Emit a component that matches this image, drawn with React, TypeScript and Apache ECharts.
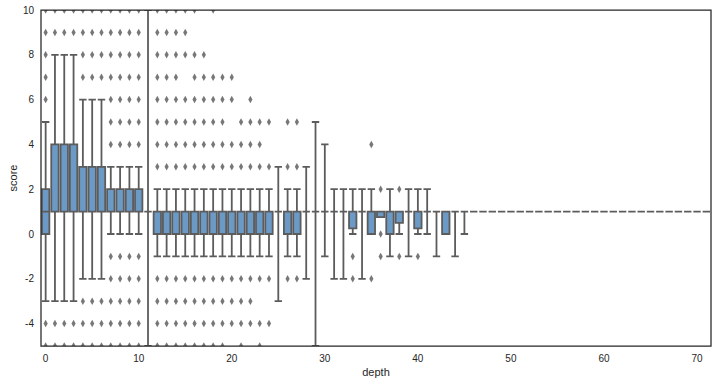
import React, { useEffect, useRef } from "react";
import * as echarts from "echarts";

// depth categories 0..71
const depths: string[] = Array.from({ length: 72 }, (_, i) => String(i));

// box statistics per depth
const whiskerLow: number[] = [
  -3, -3, -3, -3, -2, -2, -2, 0, 0, 0, 0, -5,
  -1, -1, -1, -1, -1, -1, -1, -1, -1, -1, -1, -1, -1,
  -3, -1, -1, -2, -5, -1, -2, -2, 0, -2, 0, 0.75, -1, 0, -1, 0, 0, -1, 0, -1, 0,
  1, 1, 1, 1, 1, 1, 1, 1, 1, 1, 1, 1, 1, 1, 1, 1, 1, 1, 1, 1, 1, 1, 1, 1, 1, 1,
];
const q1: number[] = [
  0, 1, 1, 1, 1, 1, 1, 1, 1, 1, 1, 1,
  0, 0, 0, 0, 0, 0, 0, 0, 0, 0, 0, 0, 0,
  1, 0, 0, 1, 1, 1, 1, 1, 0.25, 1, 0, 0.75, 0, 0.5, 1, 0.25, 1, 1, 0, 1, 1,
  1, 1, 1, 1, 1, 1, 1, 1, 1, 1, 1, 1, 1, 1, 1, 1, 1, 1, 1, 1, 1, 1, 1, 1, 1, 1,
];
const median: number[] = [
  1, 1, 1, 1, 1, 1, 1, 1, 1, 1, 1, 1,
  1, 1, 1, 1, 1, 1, 1, 1, 1, 1, 1, 1, 1,
  1, 1, 1, 1, 1, 1, 1, 1, 1, 1, 1, 1, 1, 1, 1, 1, 1, 1, 1, 1, 1,
  1, 1, 1, 1, 1, 1, 1, 1, 1, 1, 1, 1, 1, 1, 1, 1, 1, 1, 1, 1, 1, 1, 1, 1, 1, 1,
];
const q3: number[] = [
  2, 4, 4, 4, 3, 3, 3, 2, 2, 2, 2, 1,
  1, 1, 1, 1, 1, 1, 1, 1, 1, 1, 1, 1, 1,
  1, 1, 1, 1, 1, 1, 1, 1, 1, 1, 1, 1, 1, 1, 1, 1, 1, 1, 1, 1, 1,
  1, 1, 1, 1, 1, 1, 1, 1, 1, 1, 1, 1, 1, 1, 1, 1, 1, 1, 1, 1, 1, 1, 1, 1, 1, 1,
];
const whiskerHigh: number[] = [
  5, 8, 8, 8, 6, 6, 6, 3, 3, 3, 3, 10,
  2, 2, 2, 2, 2, 2, 2, 2, 2, 2, 2, 2, 2,
  3, 2, 2, 3, 5, 4, 2, 2, 2, 2, 2, 1, 2, 1, 2, 2, 2, 1, 1, 1, 1,
  1, 1, 1, 1, 1, 1, 1, 1, 1, 1, 1, 1, 1, 1, 1, 1, 1, 1, 1, 1, 1, 1, 1, 1, 1, 1,
];

// outliers: [depth index, score values]
const outlierGroups: [number, number[]][] = [
  [0, [6, 7, 8, 9, 10, -4, -5]],
  [1, [9, 10, -4, -5]],
  [2, [9, 10, -4, -5]],
  [3, [9, 10, -4, -5]],
  [4, [7, 8, 9, 10, -3, -4, -5]],
  [5, [7, 8, 9, 10, -3, -4, -5]],
  [6, [7, 8, 9, 10, -3, -4, -5]],
  [7, [4, 5, 6, 7, 8, 9, 10, -1, -2, -3, -4, -5]],
  [8, [4, 5, 6, 7, 8, 9, 10, -1, -2, -3, -4, -5]],
  [9, [4, 5, 6, 7, 8, 9, 10, -1, -2, -3, -4, -5]],
  [10, [4, 5, 6, 7, 8, 9, 10, -1, -2, -3, -4, -5]],
  [12, [3, 4, 5, 6, 7, 8, 9, 10, -2, -3, -4, -5]],
  [13, [3, 4, 5, 6, 7, 8, 9, 10, -2, -3, -4, -5]],
  [14, [3, 4, 5, 6, 7, 8, 9, 10, -2, -3, -4, -5]],
  [15, [3, 4, 5, 6, 8, 9, 10, -2, -3, -4, -5]],
  [16, [3, 4, 5, 6, 7, 8, 10, -2, -3, -4, -5]],
  [17, [3, 4, 5, 6, 7, 8, -2, -3, -4, -5]],
  [18, [3, 4, 5, 6, 7, 10, -2, -3, -4, -5]],
  [19, [3, 4, 5, 6, 7, -2, -3, -4, -5]],
  [20, [3, 4, 6, 7, -2, -3, -4]],
  [21, [3, 4, 5, -2, -3, -4, -5]],
  [22, [3, 4, 5, 6, -2, -3, -4]],
  [23, [3, 4, 5, -2, -4, -5]],
  [24, [3, 5, -2, -4]],
  [26, [3, 5, -2]],
  [27, [3, 5, -2]],
  [33, [-1, -2]],
  [35, [4, -2]],
  [36, [2, 0, -1]],
  [38, [2, -1]],
  [40, [-1]],
];

const yTicks = [-4, -2, 0, 2, 4, 6, 8, 10];

const GRID = { left: 41, top: 10, width: 670, height: 336 };
const LINE = "#5c5c5c";
const FILL = "#6b9ac7";
const TEXT = "#262626";
const FONT = "'Liberation Sans', Arial, sans-serif";

export default function App() {
  const ref = useRef<HTMLDivElement>(null);
  useEffect(() => {
    const chart = echarts.init(ref.current!, null, { renderer: "svg" });
    const boxData = depths.map((_, i) => [whiskerLow[i], q1[i], median[i], q3[i], whiskerHigh[i]]);
    const outlierData: number[][] = [];
    outlierGroups.forEach(([d, vals]) => vals.forEach((v) => outlierData.push([d, v])));

    chart.setOption({
      animation: false,
      backgroundColor: "#ffffff",
      grid: { ...GRID, show: false, containLabel: false, outerBoundsMode: "none" },
      xAxis: {
        type: "category",
        data: depths,
        boundaryGap: true,
        name: "depth",
        nameLocation: "middle",
        nameGap: 20,
        nameMoveOverlap: false,
        nameTextStyle: { color: TEXT, fontSize: 11, fontFamily: FONT },
        axisLine: { show: false },
        axisTick: { show: false },
        splitLine: { show: false },
        axisLabel: { interval: 9, color: TEXT, fontSize: 10, fontFamily: FONT, margin: 7 },
      },
      yAxis: {
        type: "value",
        min: -5,
        max: 10,
        interval: 1,
        name: "score",
        nameLocation: "middle",
        nameGap: 23,
        nameMoveOverlap: false,
        nameTextStyle: { color: TEXT, fontSize: 11, fontFamily: FONT },
        axisLine: { show: false },
        axisTick: { show: false },
        splitLine: { show: false },
        axisLabel: {
          color: TEXT,
          fontSize: 10,
          fontFamily: FONT,
          margin: 7,
          formatter: (v: number) => (yTicks.includes(v) ? String(v) : ""),
        },
      },
      series: [
        {
          type: "boxplot",
          data: boxData,
          boxWidth: [7.4, 7.4],
          itemStyle: { color: FILL, borderColor: LINE, borderWidth: 1.8 },
          z: 2,
        },
        {
          type: "scatter",
          data: outlierData,
          symbol: "diamond",
          symbolSize: [4.2, 7.5],
          itemStyle: { color: "#555555" },
          z: 3,
        },
      ],
      graphic: [
        {
          type: "rect",
          z: 100,
          shape: { x: GRID.left - 1, y: 0, width: GRID.width + 2, height: GRID.top },
          style: { fill: "#fff" },
          silent: true,
        },
        {
          type: "rect",
          z: 100,
          shape: { x: GRID.left - 1, y: GRID.top + GRID.height, width: GRID.width + 2, height: 5 },
          style: { fill: "#fff" },
          silent: true,
        },
        {
          type: "rect",
          z: 101,
          shape: { x: GRID.left, y: GRID.top, width: GRID.width, height: GRID.height },
          style: { fill: "none", stroke: TEXT, lineWidth: 1.25 },
          silent: true,
        },
      ],
    });
    return () => chart.dispose();
  }, []);
  return (
    <div
      ref={ref}
      style={{ position: "fixed", left: 0, top: 0, width: 717, height: 384, background: "#fff" }}
    />
  );
}
